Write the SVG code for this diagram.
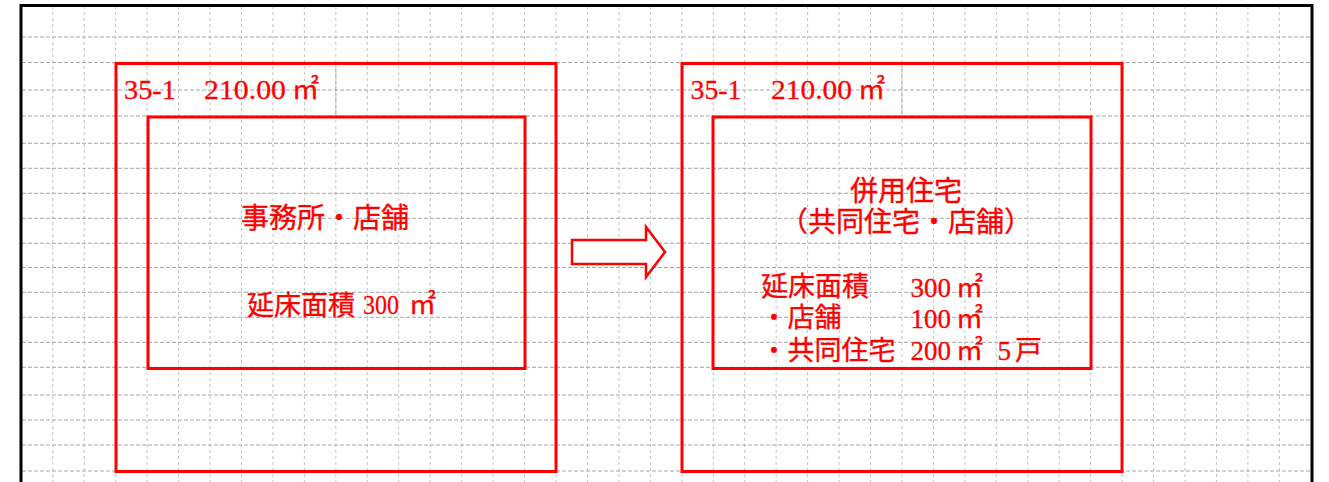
<svg xmlns="http://www.w3.org/2000/svg" width="1329" height="482" viewBox="0 0 1329 482">
<style>
.gv{fill:none;stroke:#c2c2c2;stroke-width:1;stroke-dasharray:3 3}
.gh{fill:none;stroke:#a6a6a6;stroke-width:1;stroke-dasharray:4 2}
.gd{fill:none;stroke:#999999;stroke-width:1;stroke-dasharray:3 3}
.box{fill:none;stroke:#ff0000;stroke-width:3}
.jp{font-family:"Noto Sans CJK JP","Noto Sans CJK SC",sans-serif;fill:#ff0000;stroke:#ff0000;stroke-width:0.35}
.num{font-family:"Liberation Serif","Noto Sans CJK JP",serif;fill:#ff0000;stroke:#ff0000;stroke-width:0.3}
.frame{fill:none;stroke:#000;stroke-width:3}
</style>
<rect x="0" y="0" width="1329" height="482" fill="#ffffff"/>
<g id="grid">
<path class="gv" d="M52.8 6V482M84.25 6V482M115.7 6V482M147.15 6V482M178.6 6V482M210.05 6V482M241.5 6V482M272.95 6V482M304.4 6V482M335.85 6V482M367.3 6V482M398.75 6V482M430.2 6V482M461.65 6V482M493.1 6V482M524.55 6V482M556 6V482M587.45 6V482M618.9 6V482M650.35 6V482M681.8 6V482M713.25 6V482M744.7 6V482M776.15 6V482M807.6 6V482M839.05 6V482M870.5 6V482M901.95 6V482M933.4 6V482M964.85 6V482M996.3 6V482M1027.75 6V482M1059.2 6V482M1090.65 6V482M1122.1 6V482M1153.55 6V482M1185 6V482M1216.45 6V482M1247.9 6V482M1279.35 6V482"/>
<path class="gh" d="M22 37H1311M22 62.5H1311M22 90H1311M22 116H1311M22 143.3H1311M22 168.3H1311M22 193.3H1311M22 218.3H1311M22 243.3H1311M22 267.5H1311M22 292.3H1311M22 317.3H1311M22 342.3H1311M22 367.3H1311M22 395H1311M22 420H1311M22 445H1311M22 471H1311"/>
<path class="gd" d="M335.85 63V116M901.95 63V116"/>
</g>
<g id="frame">
<path class="frame" d="M21 482V5.5H1312V482"/>
</g>
<g id="lot-before">
<rect class="box" x="116" y="63.5" width="440" height="408"/>
<text class="num" x="124" y="99" font-size="28" textLength="52" lengthAdjust="spacingAndGlyphs">35-1</text>
<text class="num" x="204" y="99" font-size="28" textLength="82" lengthAdjust="spacingAndGlyphs">210.00</text>
<text class="jp" x="292" y="99" font-size="27">㎡</text>
</g>
<g id="building-before">
<rect class="box" x="148" y="117" width="377" height="251.5"/>
<text class="jp" x="241" y="228" font-size="28">事務所・店舗</text>
<text class="jp" x="247" y="315" font-size="27">延床面積</text>
<text class="num" x="363" y="313.5" font-size="28" textLength="36" lengthAdjust="spacingAndGlyphs">300</text>
<text class="jp" x="409" y="314" font-size="27">㎡</text>
</g>
<g id="lot-after">
<rect class="box" x="682" y="63.5" width="440" height="408"/>
<text class="num" x="690.5" y="99.3" font-size="28" textLength="51" lengthAdjust="spacingAndGlyphs">35-1</text>
<text class="num" x="771" y="99.3" font-size="28" textLength="81" lengthAdjust="spacingAndGlyphs">210.00</text>
<text class="jp" x="858" y="99.3" font-size="27">㎡</text>
</g>
<g id="building-after">
<rect class="box" x="713" y="117" width="378" height="251.5"/>
<text class="jp" x="906" y="201" font-size="28" text-anchor="middle">併用住宅</text>
<text class="jp" x="906" y="232" font-size="28" text-anchor="middle">（共同住宅・店舗）</text>
<text class="jp" x="761" y="296" font-size="27">延床面積</text>
<text class="num" x="910.5" y="296.7" font-size="27">300</text>
<text class="jp" x="956" y="297" font-size="27">㎡</text>
<text class="jp" x="760.5" y="327" font-size="27">・店舗</text>
<text class="num" x="910.5" y="328" font-size="27">100</text>
<text class="jp" x="956" y="328" font-size="27">㎡</text>
<text class="jp" x="760.5" y="359.5" font-size="27">・共同住宅</text>
<text class="num" x="910.5" y="360" font-size="27">200</text>
<text class="jp" x="956" y="360" font-size="27">㎡</text>
<text class="num" x="997.5" y="360" font-size="27">5</text>
<text class="jp" x="1015" y="360" font-size="27">戸</text>
</g>
<g id="connectors">
<polygon points="572,240 646,240 646,227 665,252 646,277 646,264 572,264" fill="#ffffff" stroke="#ff0000" stroke-width="2.5" stroke-linejoin="miter"/>
</g>
</svg>
